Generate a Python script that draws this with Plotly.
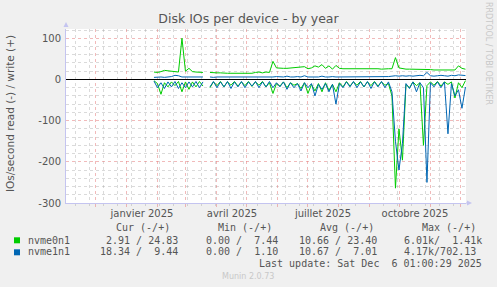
import plotly.graph_objects as go
import pandas as pd

# ---- data (sample grid: every 3.5 days from 2025-01-28) ----
dates = pd.date_range('2025-01-28', periods=90, freq='84h')

nvme0n1_write = [18, 17, 19, 22, 21, 20, 19, 18, 100, 20, 27, 19, 18, 17, 17, None,
                 17, 16, 16, 16, 15, 15, 15, 15, 15, 15, 15, 16, 15, 17, 18, 16, 18, 17,
                 44, 28, 27, 27, 27, 28, 28, 29, 30, 31, 26, 28, 33, 30, 36, 27, 33, 25, 34, 27,
                 26, 26, 26, 27, 26, 26, 26, 27, 26, 26, 26, 25, 26, 26, 26,
                 53, 28, 26, 25, 25, 25, 24, 25, 24, 24, 24, 23, 23, 23, 22, 22, 22, 23, 33, 27, 24.83]
nvme0n1_read = [3, 10, 36, 8, 18, 6, 15, 5, 30, 6, 24, 6, 18, 5, 16, None,
                20, 6, 15, 5, 18, 6, 14, 5, 16, 6, 15, 5, 17, 6, 14, 5, 18, 8,
                34, 10, 16, 6, 20, 8, 14, 10, 22, 8, 34, 12, 28, 10, 30, 8, 26, 12, 30, 8,
                18, 5, 16, 6, 14, 5, 18, 6, 15, 5, 16, 6, 14, 10, 40,
                264, 120, 196, 12, 20, 6, 15, 8, 160, 15, 6, 14, 5, 16, 6, 12, 6, 45, 8, 20, 2.91]
nvme1n1_write = [5, 6, 6, 5, 6, 7, 10, 9, 6, 6, 6, 5, 6, 5, 6, None,
                 6, 5, 6, 6, 6, 5, 6, 6, 6, 6, 5, 6, 6, 6, 5, 6, 6, 6,
                 6, 7, 6, 6, 8, 6, 6, 7, 6, 9, 6, 6, 7, 6, 8, 6, 6, 7, 6, 6,
                 6, 7, 6, 6, 7, 6, 6, 6, 7, 6, 6, 7, 6, 7, 8,
                 9, 8, 9, 8, 9, 8, 9, 10, 9, 17, 9, 8, 9, 10, 9, 8, 10, 9, 11, 10, 9.44]
nvme1n1_read = [4, 20, 8, 22, 6, 18, 5, 22, 8, 20, 6, 18, 5, 20, 6, None,
                18, 5, 20, 6, 18, 5, 22, 6, 18, 5, 20, 6, 16, 5, 20, 6, 18, 5,
                20, 8, 18, 6, 24, 8, 20, 10, 28, 8, 20, 10, 40, 12, 24, 10, 30, 12, 60, 10,
                20, 6, 18, 5, 20, 6, 18, 5, 22, 6, 18, 5, 20, 6, 30,
                150, 220, 155, 10, 22, 6, 30, 8, 20, 250, 8, 18, 6, 20, 6, 132, 10, 40, 25, 70, 18.34]

series_names = ['nvme0n1', 'nvme1n1']
series_colors = ['#00CC00', '#0066B3']

month_labels = ['janvier 2025', 'avril 2025', 'juillet 2025', 'octobre 2025']
month_label_dates = ['2025-01-16', '2025-04-16', '2025-07-16', '2025-10-16']
y_tick_vals = [-300, -200, -100, 0, 100]
y_tick_text = ['-300', '-200', '-100', '0', '100']

headers = ['Cur (-/+)', 'Min (-/+)', 'Avg (-/+)', 'Max (-/+)']
stats = [['2.91 / 24.83', '0.00 /  7.44', '10.66 / 23.40', '6.01k/  1.41k'],
         ['18.34 /  9.44', '0.00 /  1.10', '10.67 /  7.01', '4.17k/702.13']]
last_update = 'Last update: Sat Dec  6 01:00:29 2025'

X0, X1 = '2024-11-01 01:00', '2025-12-06 01:00'
Y0, Y1 = -300, 122.5

# ---- layout geometry ----
W, H = 497, 287
ML, MR, MT, MB = 66, 31, 29, 84
PW, PH = W - ML - MR, H - MT - MB


def px(x):
    return (x - ML) / PW


def py(y):
    return (H - MB - y) / PH


TXT = '#555555'
fig = go.Figure()

pairs = [(nvme0n1_write, nvme0n1_read), (nvme1n1_write, nvme1n1_read)]
for (w, r), name, col in zip(pairs, series_names, series_colors):
    neg = [None if v is None else -v for v in r]
    fig.add_trace(go.Scatter(x=dates, y=neg, mode='lines', name=name + ' read',
                             line=dict(color=col, width=1), showlegend=False, hoverinfo='skip'))
    fig.add_trace(go.Scatter(x=dates, y=w, mode='lines', name=name,
                             line=dict(color=col, width=1), showlegend=False, hoverinfo='skip'))

# invisible trace to carry the label axes
fig.add_trace(go.Scatter(x=[X0], y=[0], xaxis='x2', yaxis='y2', mode='markers',
                         marker=dict(opacity=0), showlegend=False, hoverinfo='skip'))

MAJ = 'rgba(230,130,130,0.55)'
MIN = 'rgba(150,150,150,0.35)'
AX = '#C4C4F0'

fig.update_layout(
    width=W, height=H,
    margin=dict(l=ML, r=MR, t=MT, b=MB),
    paper_bgcolor='#F0F0F0', plot_bgcolor='#FFFFFF',
    font=dict(family='DejaVu Sans', size=10, color=TXT),
    title=dict(text='Disk IOs per device - by year', x=0.5, xanchor='center',
               y=1 - 19 / H, yanchor='middle', yref='container',
               font=dict(family='DejaVu Sans', size=12.5, color=TXT)),
    xaxis=dict(type='date', range=[X0, X1], showticklabels=False,
               tickmode='linear', tick0='2024-12-01', dtick='M1',
               ticks='outside', ticklen=3, tickcolor=MAJ,
               showgrid=True, gridcolor=MAJ, griddash='dot', gridwidth=1,
               minor=dict(tickmode='linear', tick0='2025-01-20', dtick=14 * 86400000,
                          showgrid=True, gridcolor=MIN, griddash='dot', gridwidth=1,
                          ticks='outside', ticklen=2, tickcolor=MIN),
               showline=True, linecolor=AX, linewidth=1, zeroline=False, fixedrange=True),
    yaxis=dict(range=[Y0, Y1], tickmode='linear', tick0=0, dtick=100, showticklabels=False,
               showgrid=True, gridcolor=MAJ, griddash='dot', gridwidth=1,
               minor=dict(tickmode='linear', tick0=0, dtick=20, showgrid=True,
                          gridcolor=MIN, griddash='dot', gridwidth=1),
               zeroline=True, zerolinecolor='#000000', zerolinewidth=1,
               showline=True, linecolor=AX, linewidth=1, fixedrange=True),
    xaxis2=dict(type='date', overlaying='x', anchor='y', side='bottom', range=[X0, X1],
                tickmode='array', tickvals=month_label_dates, ticktext=month_labels,
                showgrid=False, zeroline=False, showline=False, ticks='',
                ticklabelstandoff=3, tickfont=dict(family='DejaVu Sans', size=10, color=TXT)),
    yaxis2=dict(overlaying='y', anchor='x', side='left', range=[Y0, Y1],
                tickmode='array', tickvals=y_tick_vals, ticktext=y_tick_text,
                showgrid=False, zeroline=False, showline=False, ticks='',
                ticklabelstandoff=4, tickfont=dict(family='DejaVu Sans', size=10, color=TXT)),
    showlegend=False,
)

ann = []
# y-axis title
ann.append(dict(text='IOs/second read (-) / write (+)', x=px(10), y=py(114), xref='paper', yref='paper',
                textangle=-90, showarrow=False, xanchor='center', yanchor='middle',
                font=dict(family='DejaVu Sans', size=10.5, color=TXT)))
# RRDTOOL watermark
ann.append(dict(text='RRDTOOL / TOBI OETIKER', x=px(489), y=py(53), xref='paper', yref='paper',
                textangle=90, showarrow=False, xanchor='center', yanchor='middle',
                font=dict(family='DejaVu Sans', size=8, color='#C8C8C8')))
MONO = dict(family='DejaVu Sans Mono', size=10, color=TXT)
nb = lambda s: s.replace(' ', '\u00a0')
hdr_x = [142.7, 245, 347.3, 449.3]
for hx, h in zip(hdr_x, headers):
    ann.append(dict(text=nb(h), x=px(hx), y=py(227.3), xref='paper', yref='paper', showarrow=False,
                    xanchor='center', yanchor='middle', font=MONO))
row_y = [240, 251.7]
col_right = [179, 279, 377.7]
for ri, (ry, name, col) in enumerate(zip(row_y, series_names, series_colors)):
    ann.append(dict(text=name, x=px(26), y=py(ry), xref='paper', yref='paper', showarrow=False,
                    xanchor='left', yanchor='middle', font=MONO))
    rights = col_right + [482.7 if ri == 0 else 476.7]
    for cx, s in zip(rights, stats[ri]):
        ann.append(dict(text=nb(s), x=px(cx + 1), y=py(ry), xref='paper', yref='paper', showarrow=False,
                        xanchor='right', yanchor='middle', font=MONO))
ann.append(dict(text=nb(last_update), x=px(483.7), y=py(263.3), xref='paper', yref='paper',
                showarrow=False, xanchor='right', yanchor='middle', font=MONO))
ann.append(dict(text='Munin 2.0.73', x=px(248), y=py(276), xref='paper', yref='paper',
                showarrow=False, xanchor='center', yanchor='middle',
                font=dict(family='DejaVu Sans', size=8, color='#C8C8C8')))
fig.update_layout(annotations=ann)

shapes = []
# legend colour boxes
for (y0, y1), col in zip([(237.3, 243.3), (249.3, 255.3)], series_colors):
    shapes.append(dict(type='rect', xref='paper', yref='paper', x0=px(14), x1=px(20),
                       y0=py(y1), y1=py(y0), fillcolor=col, line=dict(width=0)))
# axis arrows
shapes.append(dict(type='path', xref='paper', yref='paper',
                   path=f'M {px(63.5)} {py(27)} L {px(68.5)} {py(27)} L {px(66)} {py(22)} Z',
                   fillcolor=AX, line=dict(width=0)))
shapes.append(dict(type='path', xref='paper', yref='paper',
                   path=f'M {px(467)} {py(200.5)} L {px(467)} {py(205.5)} L {px(472)} {py(203)} Z',
                   fillcolor=AX, line=dict(width=0)))
shapes.append(dict(type='line', xref='paper', yref='paper', x0=px(466), x1=px(468),
                   y0=py(203), y1=py(203), line=dict(color=AX, width=1)))
fig.update_layout(shapes=shapes)

fig.write_html('out.html')
